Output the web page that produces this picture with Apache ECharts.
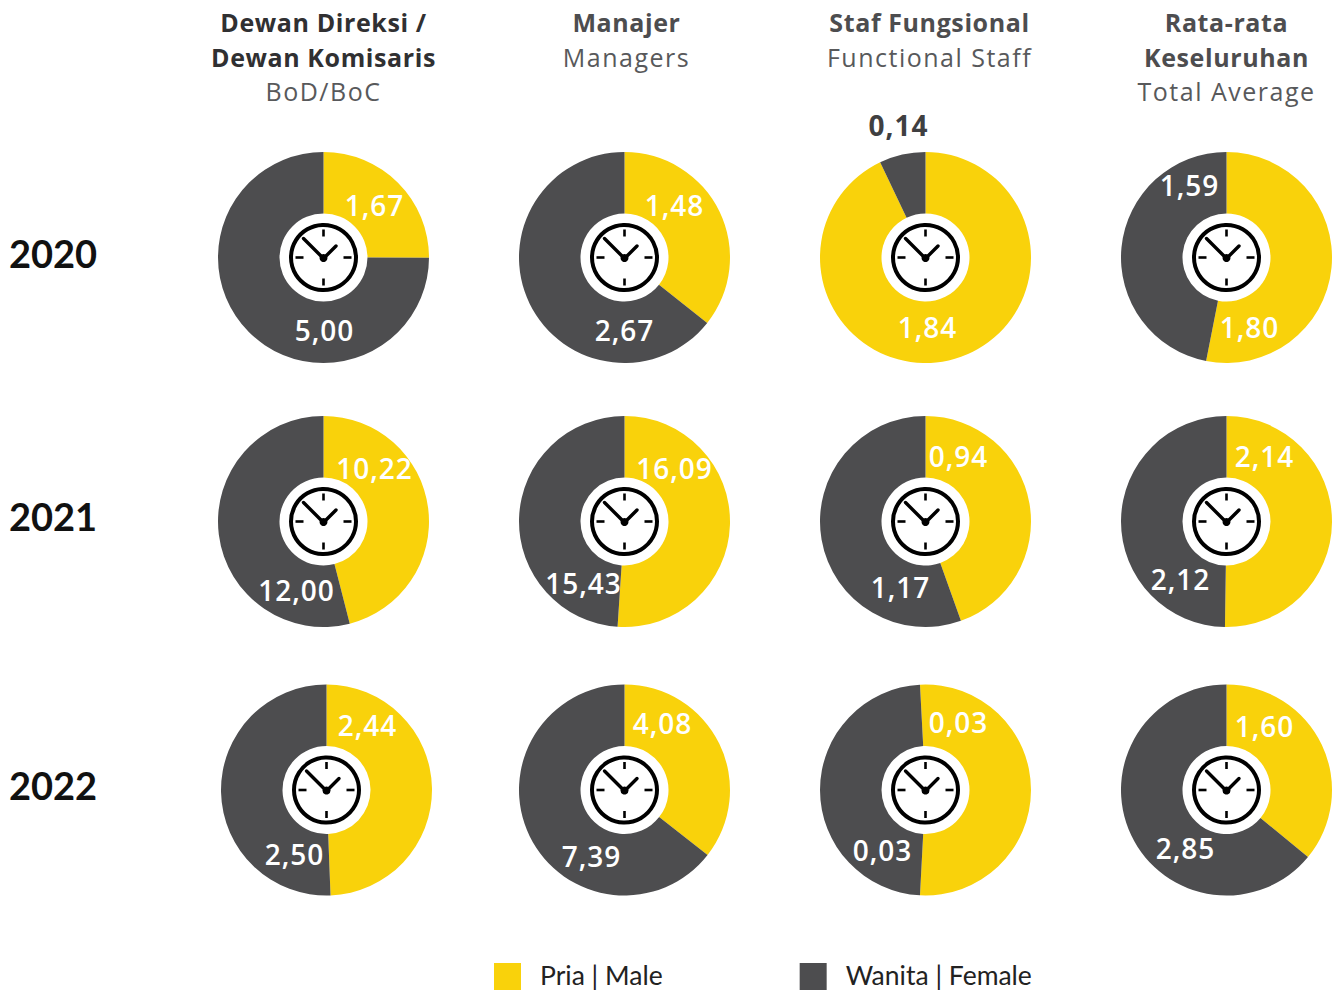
<!DOCTYPE html>
<html><head><meta charset="utf-8">
<style>html,body{margin:0;padding:0;background:#fff}#c{width:1338px;height:992px}
svg text[style*="25px"][style*="700"]{letter-spacing:.6px}
svg text[style*="25px"][style*="400"]{letter-spacing:1.5px}
svg text[style*="28px"]{letter-spacing:1px !important}
</style>
<script src="https://cdn.jsdelivr.net/npm/echarts@6/dist/echarts.min.js"></script>
</head><body><div id="c"></div>
<script>
const years = ['2020','2021','2022'];
const groups = ['Dewan Direksi / Dewan Komisaris','Manajer','Staf Fungsional','Rata-rata Keseluruhan'];
const seriesNames = ['Pria | Male','Wanita | Female'];
const male2020 = [1.67,1.48,1.84,1.80];
const female2020 = [5.00,2.67,0.14,1.59];
const male2021 = [10.22,16.09,0.94,2.14];
const female2021 = [12.00,15.43,1.17,2.12];
// 0,03 / 0,03 are rounded labels: the drawn slices are slightly unequal
const male2022 = [2.44,4.08,0.031,1.60];
const female2022 = [2.50,7.39,0.029,2.85];

const YELLOW='#F9D20B', GRAY='#4D4D4F';
const FONT='"Open Sans", Lato, sans-serif';
const colX=[[323.5,624.5,925.5,1226.5],[323.5,624.5,925.5,1226.5],[326.5,624.5,925.5,1226.5]];
const rowY=[257.5,521.5,790];
const startAngles=[[90,90,90,90],[90,90,90,90],[90,90,93,90]];
const R=105.5, HOLE=44;
// label offsets from pie centre [male, female] per row/col
const labelPos=[
 [[[51,-53],[1,72]],[[50,-53],[0,72]],[[2,69],[-27,-133]],[[23,69],[-37,-73]]],
 [[[51,-54],[-27,68]],[[50,-54],[-41,61]],[[33,-66],[-25,65]],[[38,-66],[-46,57]]],
 [[[41,-65],[-32,64]],[[38,-67],[-33,66]],[[33,-68],[-43,60]],[[38,-64],[-41,58]]]
];
const males=[male2020,male2021,male2022], females=[female2020,female2021,female2022];
const fmt=v=>v.toFixed(2).replace('.',',');

const series=[], graphic=[];
years.forEach((y,r)=>{
  groups.forEach((g,c)=>{
    const cx=colX[r][c], cy=rowY[r], lp=labelPos[r][c];
    const outside=(r===0&&c===2);
    series.push({
      type:'pie', silent:true, animation:false, startAngle:startAngles[r][c], clockwise:true,
      center:[cx,cy], radius:[HOLE,R],
      itemStyle:{borderWidth:0},
      labelLine:{show:false},
      label:{show:true,position:'center',fontFamily:FONT,fontSize:28,fontWeight:600,color:'#fff',
        formatter:p=>fmt(p.value)},
      labelLayout:p=>({x:cx+lp[p.dataIndex][0],y:cy+lp[p.dataIndex][1],align:'center',verticalAlign:'middle'}),
      data:[
        {name:seriesNames[0],value:males[r][c],itemStyle:{color:YELLOW}},
        {name:seriesNames[1],value:females[r][c],itemStyle:{color:GRAY},
         label:outside?{color:'#3f3f41',fontWeight:700}:undefined}
      ]
    });
    graphic.push({type:'group',x:cx,y:cy,z:50,silent:true,children:[
      {type:'circle',shape:{cx:0,cy:0,r:32.5},style:{fill:'#fff',stroke:'#000',lineWidth:4}},
      {type:'line',shape:{x1:0,y1:-28,x2:0,y2:-21},style:{stroke:'#000',lineWidth:2.6}},
      {type:'line',shape:{x1:0,y1:28,x2:0,y2:21},style:{stroke:'#000',lineWidth:2.6}},
      {type:'line',shape:{x1:-28,y1:0,x2:-20,y2:0},style:{stroke:'#000',lineWidth:2.6}},
      {type:'line',shape:{x1:28,y1:0,x2:20,y2:0},style:{stroke:'#000',lineWidth:2.6}},
      {type:'polyline',shape:{points:[[-20,-19],[0,1],[12.5,-11.5]]},style:{fill:null,stroke:'#000',lineWidth:3.4,lineCap:'round',lineJoin:'round'}},
      {type:'circle',shape:{cx:0,cy:0.5,r:4},style:{fill:'#000'}}
    ]});
  });
});

const headers=[
 [323.5,22,'Dewan Direksi /',700,'#303032'],[323.5,56.5,'Dewan Komisaris',700,'#303032'],[323.5,91,'BoD/BoC',400,'#58595b'],
 [626.5,22,'Manajer',700,'#4d4d4f'],[626.5,56.5,'Managers',400,'#58595b'],
 [929.5,22,'Staf Fungsional',700,'#4d4d4f'],[929.5,56.5,'Functional Staff',400,'#58595b'],
 [1226.5,22,'Rata-rata',700,'#4d4d4f'],[1226.5,56.5,'Keseluruhan',700,'#4d4d4f'],[1226.5,91,'Total Average',400,'#58595b']
];
headers.forEach(h=>graphic.push({type:'text',x:h[0],y:h[1],style:{text:h[2],font:`${h[3]} 25px ${FONT}`,fill:h[4],align:'center',verticalAlign:'middle'}}));
const yearY=[253,516,785];
years.forEach((y,i)=>graphic.push({type:'text',x:9,y:yearY[i],style:{text:y,font:`700 38px Lato, sans-serif`,fill:'#111',align:'left',verticalAlign:'middle'}}));

const chart=echarts.init(document.getElementById('c'),null,{renderer:'svg'});
chart.setOption({
  backgroundColor:'#fff',animation:false,
  legend:{left:494,top:961,orient:'horizontal',itemWidth:27,itemHeight:27,itemGap:137,icon:'rect',
    selectedMode:false,data:seriesNames,padding:0,
    formatter:'{a|{name}}',
    textStyle:{fontFamily:'Lato, sans-serif',fontSize:26.5,color:'#222',
      rich:{a:{fontFamily:'Lato, sans-serif',fontSize:26.5,color:'#222',padding:[0,0,4,14]}}}},
  series, graphic
});
</script></body></html>
